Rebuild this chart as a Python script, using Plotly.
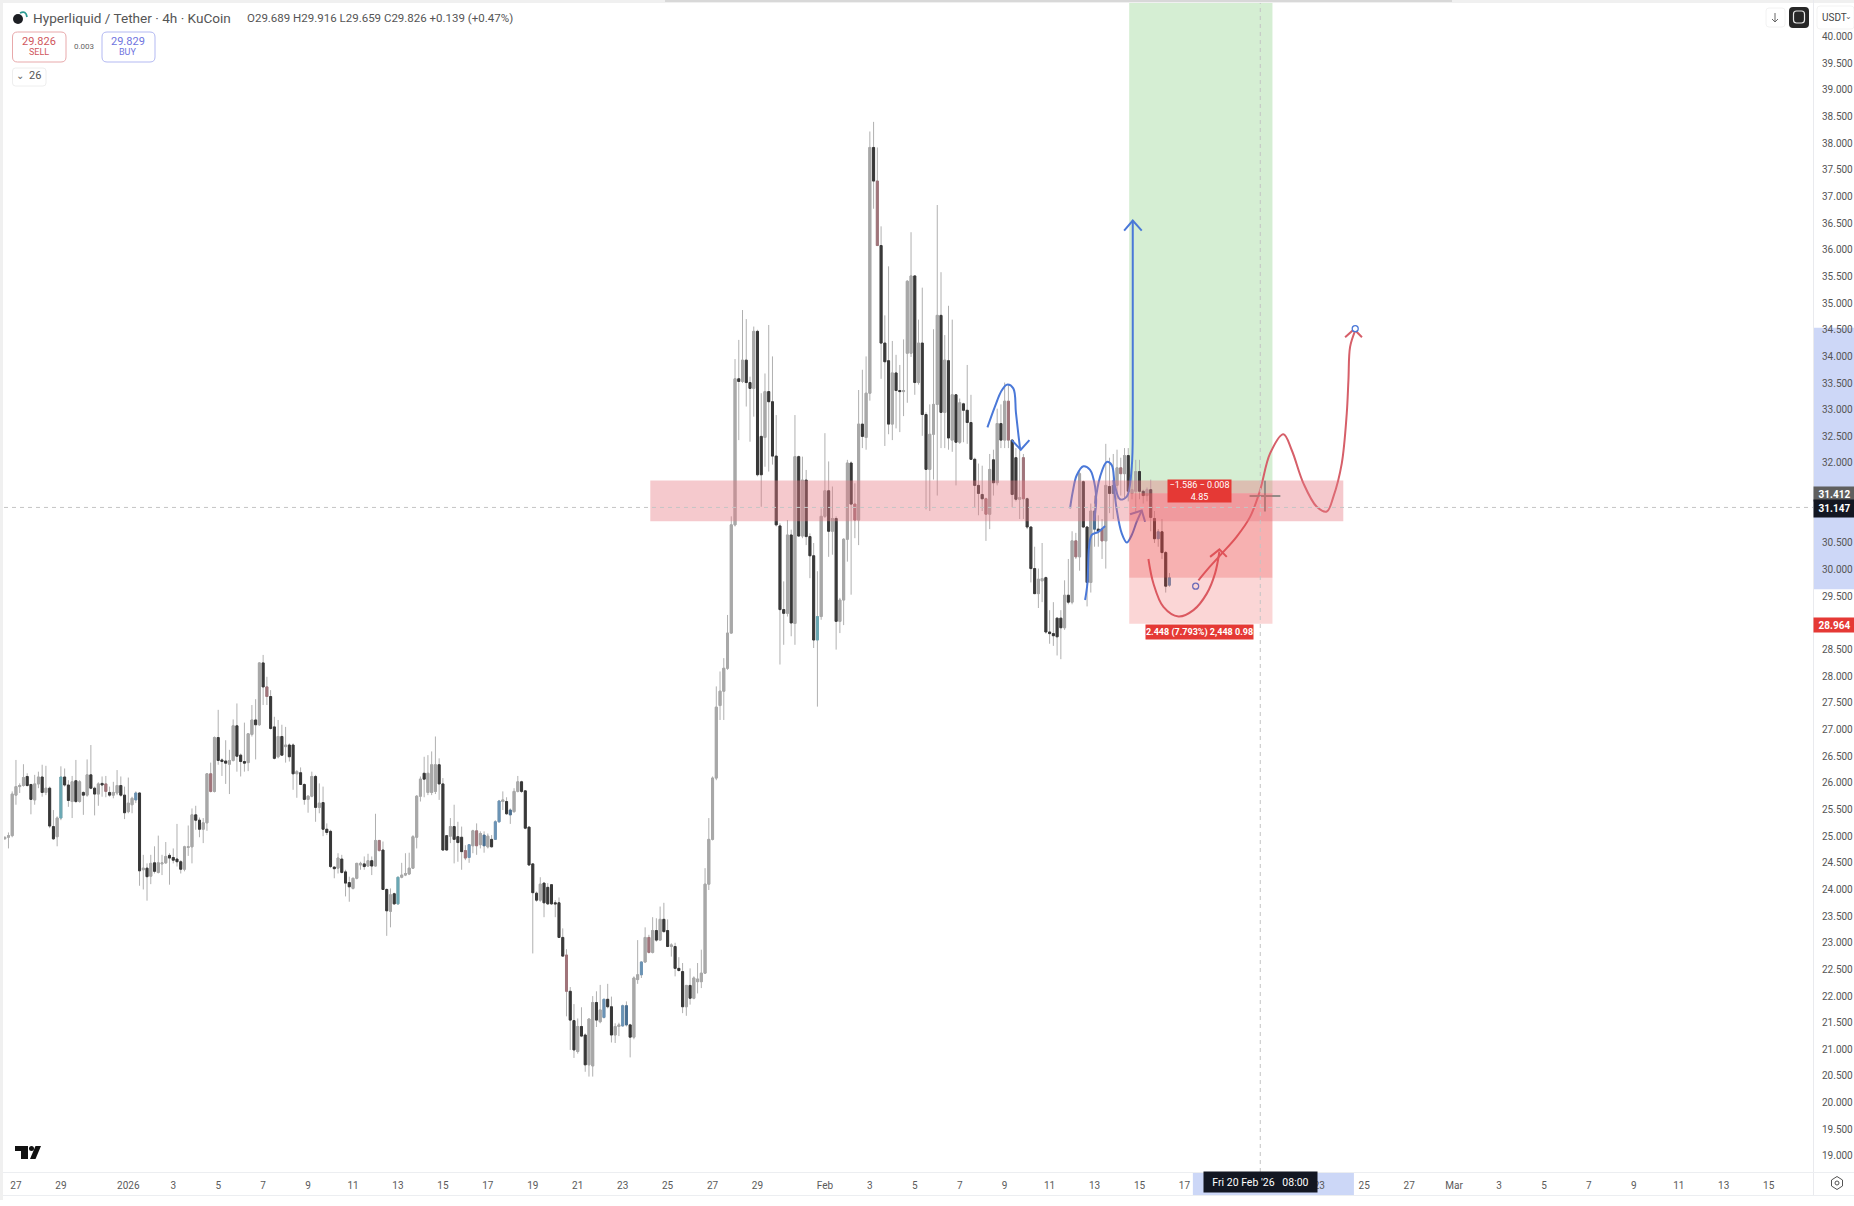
import pandas as pd
import plotly.graph_objects as go

# 4h candles, first bar is 26 Dec 12:00
opens = [
    24.93,24.96,24.99,25.75,25.91,25.93,26.10,25.95,25.66,25.96,
    26.09,25.80,25.88,25.16,24.97,25.32,26.09,25.94,25.63,26.02,
    25.63,25.80,25.75,26.13,25.88,25.77,25.97,25.96,25.80,25.75,
    25.79,25.93,25.75,25.44,25.57,25.66,25.79,24.35,24.38,24.23,
    24.48,24.30,24.46,24.48,24.62,24.58,24.55,24.50,24.36,24.77,
    24.78,25.38,25.28,25.11,25.23,26.15,25.82,26.83,26.41,26.39,
    26.33,26.40,27.05,26.50,26.38,26.36,26.89,27.16,27.07,28.23,
    27.78,27.60,27.03,26.47,26.85,26.66,26.69,26.69,26.15,26.17,
    25.95,25.67,25.73,26.10,25.52,25.61,25.11,25.07,24.40,24.38,
    24.55,24.31,24.11,24.00,24.19,24.44,24.46,24.42,24.52,24.42,
    24.90,24.72,23.98,23.57,23.90,23.71,24.21,24.25,24.27,24.38,
    24.96,25.73,26.16,25.80,25.80,25.82,26.32,25.96,24.99,24.98,
    25.16,24.97,24.96,24.71,24.58,24.80,25.08,24.82,25.00,24.78,
    24.92,24.92,25.25,25.63,25.63,25.47,25.44,25.82,26.00,25.83,
    25.15,24.46,23.91,23.78,24.10,24.02,24.07,23.73,23.73,23.08,
    22.75,22.07,21.52,20.94,21.41,21.25,20.69,20.67,21.86,21.50,
    21.58,21.92,21.78,21.25,21.41,21.42,21.80,21.44,21.21,22.29,
    22.38,22.62,23.08,22.80,23.21,23.03,23.42,23.21,22.91,22.91,
    22.50,22.44,21.78,22.18,21.94,22.25,22.25,22.41,24.08,24.92,
    26.07,27.43,27.70,28.13,28.79,30.82,33.56,33.51,33.91,33.49,
    33.38,34.45,32.48,32.46,33.32,33.13,32.11,30.80,29.23,29.16,
    30.63,28.97,32.10,30.61,31.66,30.60,30.24,28.66,29.10,30.98,
    31.46,30.70,30.94,29.01,29.41,30.55,31.98,31.21,30.91,32.71,
    32.46,33.29,37.90,37.27,36.06,34.23,33.90,32.71,33.67,33.34,
    33.32,34.04,34.04,35.49,33.49,34.23,32.89,31.86,32.52,33.08,
    34.75,32.93,33.90,32.41,33.26,32.37,33.09,32.97,32.74,32.05,
    31.56,31.39,31.31,31.02,32.04,31.61,32.72,32.41,33.14,32.41,
    32.08,31.30,32.08,31.31,30.78,30.00,29.53,29.77,29.83,28.81,
    28.78,29.07,29.07,28.89,29.50,29.37,30.52,30.22,31.63,30.78,
    29.74,31.08,30.74,30.74,30.52,31.54,31.56,31.56,31.89,31.78,
    32.12,31.41,31.45,31.82,31.45,31.37,31.48,30.94,30.56,30.69,
    30.30,29.689,
]
highs = [
    24.97,25.05,25.82,26.41,25.97,26.33,26.16,25.96,26.13,26.19,
    26.32,26.30,25.91,25.47,25.35,26.29,26.25,26.03,26.11,26.41,
    26.03,25.82,26.42,26.69,25.91,25.99,26.10,26.11,25.91,26.00,
    26.22,26.10,25.91,26.08,25.72,25.82,25.80,24.63,24.47,24.63,
    24.79,24.99,24.63,24.87,24.66,24.75,25.21,24.53,24.80,25.18,
    25.50,25.55,25.33,25.32,26.16,26.36,26.85,27.35,26.44,26.78,
    26.60,27.17,27.47,26.53,27.11,26.91,27.44,27.55,28.24,28.38,
    27.97,27.72,27.22,27.16,27.07,27.03,26.72,26.72,26.22,26.27,
    25.97,25.75,26.19,26.13,25.97,25.91,25.22,25.10,24.41,24.66,
    24.63,24.35,24.22,24.20,24.48,24.50,24.60,24.65,24.60,25.40,
    24.91,24.88,24.00,24.00,23.92,24.22,24.48,24.66,24.67,25.00,
    25.75,26.10,26.47,26.50,26.57,26.85,26.44,26.07,25.00,25.32,
    25.57,25.25,25.16,24.81,24.83,25.10,25.22,25.07,25.07,25.03,
    25.00,25.28,25.66,25.82,25.71,25.50,25.88,26.11,26.02,25.84,
    25.16,24.47,23.94,24.21,24.10,24.10,24.08,23.78,23.83,23.25,
    22.86,22.15,21.83,21.56,21.77,21.28,21.56,21.98,22.07,22.19,
    21.93,22.21,21.97,21.47,21.48,21.82,21.88,21.46,22.35,23.03,
    22.63,23.27,23.13,23.46,23.44,23.66,23.73,23.42,22.97,22.98,
    22.71,22.60,22.19,22.50,22.35,22.60,22.85,24.38,25.32,26.10,
    27.79,28.07,28.32,29.13,30.98,33.93,34.29,34.85,34.68,33.60,
    34.54,34.48,33.29,33.66,34.57,33.98,32.88,30.85,29.76,30.91,
    30.73,32.88,32.12,32.10,31.85,30.66,30.48,29.95,31.13,32.54,
    32.01,31.54,30.98,29.45,30.57,32.04,32.01,31.60,33.35,33.73,
    33.98,38.20,38.38,37.90,36.42,34.75,35.67,34.27,34.01,33.82,
    34.30,35.41,36.31,35.50,34.67,35.27,32.93,33.08,34.49,36.82,
    35.56,34.38,34.93,34.67,33.27,33.19,33.11,33.82,33.26,32.08,
    31.97,31.93,31.33,32.15,32.23,33.00,33.08,33.49,33.45,32.42,
    32.26,32.26,32.15,31.33,30.79,30.41,30.00,30.48,29.85,29.22,
    29.37,29.08,29.22,29.78,30.18,30.70,30.67,31.82,31.65,30.79,
    31.22,31.37,31.00,30.93,32.34,32.08,32.15,32.23,32.08,32.26,
    32.26,31.93,32.04,32.04,31.48,31.52,31.67,31.08,30.74,30.93,
    30.33,29.916,
]
lows = [
    24.92,24.75,24.96,25.57,25.79,25.91,25.91,25.39,25.57,25.88,
    25.72,25.75,25.13,24.91,24.79,25.28,25.91,25.53,25.32,25.60,
    25.61,25.38,25.72,25.86,25.37,25.55,25.72,25.71,25.72,25.69,
    25.75,25.72,25.30,25.41,25.41,25.60,24.05,23.98,23.77,24.08,
    24.28,24.28,24.25,24.46,24.07,24.47,24.41,24.28,24.32,24.61,
    24.47,25.10,24.96,24.85,25.08,25.80,25.80,26.32,26.11,25.96,
    25.77,26.38,26.19,26.10,26.19,26.20,26.85,26.42,27.05,27.44,
    27.44,26.98,26.42,26.44,26.50,26.36,26.38,25.85,25.70,25.94,
    25.57,25.42,25.71,25.25,25.41,24.98,25.00,24.38,24.19,24.28,
    24.28,23.85,23.75,23.98,24.17,24.35,24.35,24.41,24.25,24.41,
    24.69,23.97,23.11,23.27,23.69,23.69,24.19,24.23,24.25,24.37,
    24.75,25.63,25.71,25.75,25.75,25.77,25.66,24.71,24.71,24.85,
    24.47,24.50,24.35,24.53,24.48,24.66,24.63,24.75,24.67,24.75,
    24.77,24.91,25.23,25.47,25.38,25.21,25.42,25.80,25.79,25.11,
    24.42,22.78,23.75,23.75,23.46,23.69,23.69,23.46,23.07,22.72,
    21.60,20.97,20.82,20.90,21.21,20.56,20.47,20.47,21.40,21.47,
    21.56,21.75,21.11,21.10,21.23,21.41,21.41,20.83,21.17,22.21,
    22.32,22.60,22.78,22.78,23.00,23.03,23.17,22.90,22.72,22.35,
    22.44,21.66,21.61,21.82,21.92,22.03,22.13,22.40,23.97,24.90,
    26.03,27.16,27.16,28.10,28.78,30.79,32.41,33.48,33.04,32.38,
    32.85,31.73,31.16,31.91,31.82,31.95,30.79,28.20,28.57,29.10,
    28.73,28.57,30.60,30.57,30.44,29.82,28.51,27.41,29.04,30.95,
    30.22,30.26,28.48,28.79,28.94,30.13,29.51,30.57,30.44,32.26,
    32.23,33.15,36.75,36.05,33.56,32.30,32.52,32.41,32.63,32.56,
    32.86,33.11,33.97,33.26,33.45,32.49,31.11,31.08,31.67,31.37,
    32.26,32.26,32.23,32.19,31.56,32.34,32.37,32.34,32.04,31.15,
    31.00,31.08,30.52,30.74,31.37,31.56,32.26,32.26,32.26,31.15,
    31.26,30.93,30.93,30.74,29.74,29.52,29.26,29.37,28.78,28.59,
    28.55,28.37,28.30,28.85,29.33,29.33,30.18,29.96,30.76,29.29,
    29.55,30.41,30.41,30.18,30.00,31.04,30.93,31.30,31.37,31.30,
    31.26,31.30,31.04,31.30,31.22,31.26,30.70,30.48,30.41,30.18,
    29.55,29.659,
]
closes = [
    24.96,24.99,25.77,25.91,25.93,26.08,25.93,25.67,25.96,26.09,
    25.80,25.88,25.17,24.93,25.32,26.09,25.94,25.65,26.00,25.63,
    26.00,25.75,26.13,25.88,25.77,25.96,25.94,25.82,25.75,25.80,
    25.93,25.75,25.42,25.60,25.69,25.79,24.33,24.38,24.22,24.47,
    24.32,24.48,24.48,24.60,24.57,24.53,24.50,24.36,24.78,24.78,
    25.38,25.28,25.11,25.23,26.15,25.82,26.83,26.40,26.38,26.35,
    26.40,27.05,26.48,26.38,26.35,26.90,27.16,27.07,28.23,27.78,
    27.60,27.00,26.44,26.85,26.50,26.69,26.47,26.15,26.19,25.95,
    25.67,25.73,26.10,25.52,25.60,25.11,25.05,24.41,24.37,24.57,
    24.30,24.10,24.03,24.19,24.47,24.47,24.41,24.52,24.42,24.90,
    24.71,23.98,23.58,23.88,23.71,24.21,24.25,24.28,24.38,24.97,
    25.73,26.05,26.05,26.16,26.32,26.32,25.96,24.72,24.72,25.16,
    24.92,24.86,24.69,24.57,24.82,25.08,24.80,25.03,24.80,24.98,
    24.78,25.25,25.64,25.66,25.40,25.38,25.82,26.00,25.82,25.13,
    24.44,23.92,23.78,24.08,23.73,23.71,23.71,23.71,23.08,22.73,
    22.07,21.53,20.97,21.41,21.23,20.69,21.55,21.86,21.53,21.72,
    21.92,21.78,21.25,21.41,21.44,21.80,21.44,21.21,22.32,22.38,
    22.62,23.08,22.80,23.21,23.03,23.42,23.19,22.91,22.94,22.50,
    22.46,21.78,22.18,21.94,22.32,22.30,22.41,24.08,24.92,26.07,
    27.40,27.70,28.13,28.79,30.82,33.56,33.51,33.91,33.49,33.38,
    34.45,31.76,31.76,33.32,33.13,32.11,30.82,29.23,29.16,30.63,
    28.98,32.10,30.61,31.66,30.60,30.24,28.66,29.10,30.98,31.46,
    30.70,30.94,29.01,29.41,30.55,31.98,31.21,30.91,32.71,32.48,
    33.29,37.90,37.27,36.06,34.23,33.88,32.71,33.67,33.34,33.32,
    33.34,35.39,35.49,33.49,34.23,32.89,31.86,32.52,33.08,34.75,
    32.93,33.91,32.45,33.26,32.37,33.11,32.97,32.74,32.05,31.56,
    31.41,31.31,31.02,31.86,31.61,32.72,32.41,33.14,32.41,31.39,
    31.30,31.33,31.31,30.78,30.00,29.53,29.80,29.81,28.81,28.78,
    28.74,28.72,28.89,29.50,29.37,30.52,30.22,31.78,30.78,29.74,
    31.08,30.74,30.70,30.52,31.56,31.41,31.41,31.89,31.78,32.12,
    31.45,31.48,31.82,31.45,31.37,31.48,30.96,30.56,30.69,30.30,
    29.67,29.826,
]

# candles that came out tinted in the screen recording
red_bars = [27, 55, 70, 100, 123, 126, 150, 172, 227, 233, 262, 268, 272, 286, 293, 298]
teal_bars = [15, 105, 217]
blue_bars = [35, 124, 128, 131, 132, 135, 160, 165, 166, 170, 291, 296, 308, 311]

# time axis labels, 19 and 21 Feb sit under the crosshair tag
tick_dates = [
    "2025-12-27", "2025-12-29", "2026-01-01", "2026-01-03", "2026-01-05", "2026-01-07",
    "2026-01-09", "2026-01-11", "2026-01-13", "2026-01-15", "2026-01-17", "2026-01-19",
    "2026-01-21", "2026-01-23", "2026-01-25", "2026-01-27", "2026-01-29", "2026-02-01",
    "2026-02-03", "2026-02-05", "2026-02-07", "2026-02-09", "2026-02-11", "2026-02-13",
    "2026-02-15", "2026-02-17", "2026-02-23", "2026-02-25",
    "2026-02-27", "2026-03-01", "2026-03-03", "2026-03-05", "2026-03-07", "2026-03-09",
    "2026-03-11", "2026-03-13", "2026-03-15",
]
tick_labels = [
    "27", "29", "2026", "3", "5", "7", "9", "11", "13", "15", "17", "19", "21", "23",
    "25", "27", "29", "Feb", "3", "5", "7", "9", "11", "13", "15", "17",
    "23", "25", "27", "Mar", "3", "5", "7", "9", "11", "13", "15",
]

# price axis labels, 31.500, 31.000 and 29.000 sit under the price tags
price_ticks = [
    19.0, 19.5, 20.0, 20.5, 21.0, 21.5, 22.0, 22.5, 23.0, 23.5, 24.0, 24.5, 25.0, 25.5,
    26.0, 26.5, 27.0, 27.5, 28.0, 28.5, 29.5, 30.0, 30.5, 32.0, 32.5, 33.0, 33.5, 34.0,
    34.5, 35.0, 35.5, 36.0, 36.5, 37.0, 37.5, 38.0, 38.5, 39.0, 39.5, 40.0,
]

# position tool and zone levels
entry_price = 31.412
stop_price = 28.964
last_price = 29.826
cross_price = 31.147
target_price = 41.0
zone_top = 31.65
zone_bottom = 30.89
position_start = "2026-02-14 13:00"
position_end = "2026-02-20 22:00"
zone_start = "2026-01-24 05:30"
zone_end = "2026-02-24 01:40"
cross_time = "2026-02-20 09:00"

# hand drawn strokes, bar number (may run past the last candle) and price
blue_hump_bars = [262.4, 264.4, 266.2, 267.6, 269.3, 270.0, 270.7, 271.1]
blue_hump_prices = [32.65, 33.04, 33.34, 33.45, 33.38, 32.93, 32.49, 32.26]
blue_head_bars = [268.9, 271.3, 273.6]
blue_head_prices = [32.41, 32.23, 32.41]
blue_hook_bars = [288.47, 289.09, 289.54, 290.25, 292.03, 293.81]
blue_hook_prices = [29.41, 29.72, 30.41, 30.63, 30.69, 30.80]
blue_loop_bars = [284.46, 285.18, 286.24, 288.02, 289.8, 291.14, 291.41, 290.87]
blue_loop_prices = [31.13, 31.44, 31.75, 31.92, 31.85, 31.54, 31.22, 30.91]
blue_rise_bars = [291.14, 292.47, 294.25, 295.59, 296.48, 297.81, 299.6, 300.93, 301.2, 301.2]
blue_rise_prices = [31.22, 31.72, 32.0, 31.94, 31.54, 31.3, 31.35, 31.91, 32.91, 36.53]
blue_top_bars = [298.9, 301.2, 303.6]
blue_top_prices = [36.34, 36.53, 36.34]
blue_dip_bars = [296.03, 296.93, 298.26, 299.6, 300.93, 302.26, 303.6]
blue_dip_prices = [31.66, 31.1, 30.66, 30.49, 30.63, 30.88, 31.09]
blue_tip_bars = [300.48, 303.6, 304.49]
blue_tip_prices = [31.02, 31.09, 30.88]
red_bowl_bars = [305.38, 306.72, 309.39, 313.39, 317.4, 320.96, 323.18, 324.34]
red_bowl_prices = [30.18, 29.72, 29.28, 29.1, 29.22, 29.53, 29.91, 30.32]
red_head_bars = [321.85, 324.34, 326.3]
red_head_prices = [30.22, 30.36, 30.22]
red_path_bars = [318.73, 321.85, 324.96, 328.97, 332.53, 335.2, 337.87, 341.43, 343.66,
                 346.77, 350.33, 353.0, 354.78, 357.0, 358.34, 358.79, 359.23, 360.57]
red_path_prices = [29.78, 30.04, 30.28, 30.6, 30.97, 31.47, 32.16, 32.52, 32.22,
                   31.6, 31.16, 31.07, 31.35, 31.97, 32.91, 33.54, 34.16, 34.46]
red_top_bars = [357.9, 360.3, 362.4]
red_top_prices = [34.34, 34.49, 34.34]

FONT = "Roboto"
BLUE_INK = "#4a78d8"
RED_INK = "#d65f69"
WIDTH, HEIGHT = 1854, 1206
LEFT, RIGHT, TOP, BOTTOM = 4, 1813, 3, 1172

assert len(opens) == len(highs) == len(lows) == len(closes)
assert len(tick_dates) == len(tick_labels)

bar_times = pd.date_range("2025-12-26 12:00", periods=len(opens), freq="4h")
first_bar = bar_times[0]


def bar_time(bars):
    return [first_bar + pd.Timedelta(hours=4 * b) for b in bars]


def pick(values, wanted):
    return [values[i] for i in wanted]


def px(x):
    return (x - LEFT) / (RIGHT - LEFT)


def py(y):
    return (BOTTOM - y) / (BOTTOM - TOP)


def box(x0, y0, x1, y1, fill=None, line=None, width=1, layer="above"):
    return dict(type="rect", xref="paper", yref="paper", x0=px(x0), x1=px(x1), y0=py(y0), y1=py(y1),
                fillcolor=fill or "rgba(0,0,0,0)", line=dict(color=line or "rgba(0,0,0,0)", width=width if line else 0),
                layer=layer)


def round_box(x0, y0, x1, y1, r, fill=None, line=None, width=1):
    pts = (f"M {px(x0 + r)} {py(y0)} L {px(x1 - r)} {py(y0)} Q {px(x1)} {py(y0)} {px(x1)} {py(y0 + r)} "
           f"L {px(x1)} {py(y1 - r)} Q {px(x1)} {py(y1)} {px(x1 - r)} {py(y1)} "
           f"L {px(x0 + r)} {py(y1)} Q {px(x0)} {py(y1)} {px(x0)} {py(y1 - r)} "
           f"L {px(x0)} {py(y0 + r)} Q {px(x0)} {py(y0)} {px(x0 + r)} {py(y0)} Z")
    return dict(type="path", xref="paper", yref="paper", path=pts, fillcolor=fill or "rgba(0,0,0,0)",
                line=dict(color=line or "rgba(0,0,0,0)", width=width if line else 0), layer="above")


def label(x, y, text, size=11, color="#555", anchor="left", bold=False, **kw):
    return dict(xref="paper", yref="paper", x=px(x), y=py(y), text=f"<b>{text}</b>" if bold else text,
                showarrow=False, xanchor=anchor, yanchor="middle",
                font=dict(family=FONT, size=size, color=color), **kw)


def add_stroke(fig, bars, prices, color, smooth=True):
    fig.add_trace(go.Scatter(
        x=bar_time(bars), y=prices, mode="lines", hoverinfo="skip",
        line=dict(color=color, width=2, shape="spline" if smooth else "linear", smoothing=1.0),
    ))


fig = go.Figure()

# wicks for every candle in a light grey, bodies drawn over them
fig.add_trace(go.Candlestick(
    x=bar_times, open=opens, high=highs, low=lows, close=closes, whiskerwidth=0,
    increasing=dict(line=dict(color="#b0b0b0", width=1), fillcolor="#b0b0b0"),
    decreasing=dict(line=dict(color="#b0b0b0", width=1), fillcolor="#b0b0b0"),
))

tinted = set(red_bars + teal_bars + blue_bars)
plain_bars = [i for i in range(len(opens)) if i not in tinted]
body_groups = [
    (plain_bars, "#a8a8a8", "#383838"),
    (red_bars, "#c49a9e", "#a0747a"),
    (teal_bars, "#6aa8b4", "#6aa8b4"),
    (blue_bars, "#6a93b6", "#4a7093"),
]
for wanted, up_colour, down_colour in body_groups:
    body_open = pick(opens, wanted)
    body_close = pick(closes, wanted)
    fig.add_trace(go.Candlestick(
        x=pick(list(bar_times), wanted), open=body_open, close=body_close,
        high=[max(o, c) for o, c in zip(body_open, body_close)],
        low=[min(o, c) for o, c in zip(body_open, body_close)],
        whiskerwidth=0,
        increasing=dict(line=dict(color=up_colour, width=1), fillcolor=up_colour),
        decreasing=dict(line=dict(color=down_colour, width=1), fillcolor=down_colour),
    ))

add_stroke(fig, blue_hump_bars, blue_hump_prices, BLUE_INK)
add_stroke(fig, blue_head_bars, blue_head_prices, BLUE_INK, smooth=False)
add_stroke(fig, blue_hook_bars, blue_hook_prices, BLUE_INK)
add_stroke(fig, blue_loop_bars, blue_loop_prices, BLUE_INK)
add_stroke(fig, blue_rise_bars, blue_rise_prices, BLUE_INK)
add_stroke(fig, blue_top_bars, blue_top_prices, BLUE_INK, smooth=False)
add_stroke(fig, blue_dip_bars, blue_dip_prices, BLUE_INK)
add_stroke(fig, blue_tip_bars, blue_tip_prices, BLUE_INK, smooth=False)
add_stroke(fig, red_bowl_bars, red_bowl_prices, RED_INK)
add_stroke(fig, red_head_bars, red_head_prices, RED_INK, smooth=False)
add_stroke(fig, red_path_bars, red_path_prices, RED_INK)
add_stroke(fig, red_top_bars, red_top_prices, RED_INK, smooth=False)

# little white handles and the crosshair plus
fig.add_trace(go.Scatter(
    x=bar_time([318.0, 360.6]), y=[29.67, 34.5], mode="markers", hoverinfo="skip",
    marker=dict(symbol="circle", size=6, color="white", line=dict(color=BLUE_INK, width=1.3)),
))
fig.add_trace(go.Scatter(
    x=bar_time([336.5]), y=[31.36], mode="markers", hoverinfo="skip",
    marker=dict(symbol="cross-thin", size=22, line=dict(color="#5a9a8c", width=2)),
))

shapes = [
    # position tool
    dict(type="rect", x0=position_start, x1=position_end, y0=entry_price, y1=target_price, yref="y",
         fillcolor="#d5eed3", line_width=0, layer="below"),
    dict(type="rect", x0=position_start, x1=position_end, y0=last_price, y1=entry_price, yref="y",
         fillcolor="rgba(235,70,70,0.42)", line_width=0, layer="above"),
    dict(type="rect", x0=position_start, x1=position_end, y0=stop_price, y1=last_price, yref="y",
         fillcolor="rgba(235,70,70,0.22)", line_width=0, layer="above"),
    # the resistance zone
    dict(type="rect", x0=zone_start, x1=zone_end, y0=zone_bottom, y1=zone_top, yref="y",
         fillcolor="rgba(230,120,130,0.40)", line_width=0, layer="above"),
    # crosshair
    dict(type="line", xref="paper", x0=0, x1=1, yref="y", y0=cross_price, y1=cross_price,
         line=dict(color="#c4c4c4", width=1, dash="4px,4px"), layer="above"),
    dict(type="line", x0=cross_time, x1=cross_time, yref="paper", y0=0, y1=1,
         line=dict(color="#c4c4c4", width=1, dash="4px,4px"), layer="above"),
    # range highlighted on both axes
    dict(type="rect", xref="paper", x0=1, x1=px(WIDTH), yref="y", y0=29.61, y1=34.52,
         fillcolor="#cdd7f7", line_width=0, layer="below"),
    dict(type="rect", x0="2026-02-17 09:00", x1="2026-02-24 13:00", yref="paper", y0=py(1172), y1=py(1195),
         fillcolor="#ccd7f7", line_width=0, layer="below"),
    # frame of the chart
    box(0, 0, WIDTH, 3, fill="#f0f0f0"),
    box(665, 0, 1452, 2, fill="#d8d8d8"),
    box(0, 0, 3, 1200, fill="#f0f0f0"),
    box(RIGHT, 0, RIGHT + 1, 1195, fill="#e9eaee"),
    box(3, 1172, WIDTH, 1173, fill="#eceef1"),
    box(3, 1195, WIDTH, 1196, fill="#eceef1"),
    box(RIGHT + 1, 3, WIDTH, 32, fill="white"),
    # header widgets
    round_box(12.5, 32, 66, 62, 5, fill="white", line="#e8a9ab"),
    round_box(102, 32, 155, 62, 5, fill="white", line="#b3b9f2"),
    round_box(12.5, 68, 46, 86, 3, fill="white", line="#eeeeee"),
    round_box(1766, 8, 1785, 27, 3, fill="white", line="#f2f2f2"),
    round_box(1789, 7, 1809, 28, 4, fill="#272727"),
    round_box(1793.5, 11, 1804.5, 23, 3, line="#e8e8e8", width=1.2),
    round_box(1817, 6, 1854, 29, 3, fill="white", line="#f3f3f3"),
    # pair icon
    dict(type="circle", xref="paper", yref="paper", x0=px(13), x1=px(23), y0=py(14), y1=py(24),
         fillcolor="#1d1f24", line_width=0, layer="above"),
    dict(type="path", xref="paper", yref="paper", layer="above", line=dict(color="#2f9c94", width=1.8),
         path=f"M {px(20)} {py(13)} Q {px(26)} {py(10)} {px(27)} {py(17)}"),
    # tradingview mark
    box(15, 1146, 28, 1151, fill="#111"),
    box(21, 1146, 28, 1159, fill="#111"),
    dict(type="circle", xref="paper", yref="paper", x0=px(29), x1=px(34), y0=py(1146), y1=py(1151),
         fillcolor="#111", line_width=0, layer="above"),
    dict(type="path", xref="paper", yref="paper", layer="above", fillcolor="#111", line_width=0,
         path=f"M {px(35.5)} {py(1146)} L {px(41)} {py(1146)} L {px(35.5)} {py(1159)} L {px(30)} {py(1159)} Z"),
    # settings icon
    dict(type="path", xref="paper", yref="paper", layer="above", line=dict(color="#555", width=1),
         path=(f"M {px(1837)} {py(1176.5)} L {px(1842.5)} {py(1180)} L {px(1842.5)} {py(1186)} L {px(1837)} {py(1189.5)} "
               f"L {px(1831.5)} {py(1186)} L {px(1831.5)} {py(1180)} Z")),
    dict(type="circle", xref="paper", yref="paper", x0=px(1835), x1=px(1839), y0=py(1181), y1=py(1185),
         line=dict(color="#555", width=1), layer="above"),
    # little arrow button
    dict(type="path", xref="paper", yref="paper", layer="above", line=dict(color="#666", width=1),
         path=(f"M {px(1775)} {py(13)} L {px(1775)} {py(22)} M {px(1772)} {py(19)} L {px(1775)} {py(22)} "
               f"L {px(1778)} {py(19)}")),
]

tag_font = dict(family=FONT, size=10, color="white")
annotations = [
    label(31, 18, "Hyperliquid / Tether · 4h · KuCoin", size=13.6),
    label(245, 18, "O29.689 H29.916 L29.659 C29.826 +0.139 (+0.47%)", size=11.5),
    label(39, 41, "29.826", size=11, color="#d0565c", anchor="center"),
    label(39, 52, "SELL", size=9, color="#d0565c", anchor="center"),
    label(84, 46, "0.003", size=8, color="#666", anchor="center"),
    label(128, 41, "29.829", size=11, color="#6f74e0", anchor="center"),
    label(128, 52, "BUY", size=9, color="#6f74e0", anchor="center"),
    label(20, 76, "⌄", size=10, color="#666", anchor="center"),
    label(35, 76, "26", size=11, color="#555", anchor="center"),
    label(1820, 18, "USDT", size=10, color="#444"),
    label(1849, 17, "⌄", size=8, color="#666", anchor="center"),
    # position tool labels
    dict(x="2026-02-17 16:00", xanchor="center", y=31.45, yref="y", yanchor="middle",
         text="−1.586 − 0.008<br>4.85", showarrow=False,
         font=dict(family=FONT, size=9, color="white"), bgcolor="#e53935", width=63, height=22, borderpad=0),
    dict(x="2026-02-17 16:00", xanchor="center", y=28.81, yref="y", yanchor="middle",
         text="<b>2.448 (7.793%) 2,448 0.98</b>", showarrow=False,
         font=dict(family=FONT, size=9, color="white"), bgcolor="#e53935", width=107, height=14, borderpad=0),
    # price tags on the axis
    dict(xref="paper", x=1, xanchor="left", y=entry_price, yref="y", text="<b>31.412</b>", showarrow=False,
         font=tag_font, bgcolor="#5f5f5f", width=41, height=14, borderpad=0, yanchor="middle", yshift=-1),
    dict(xref="paper", x=1, xanchor="left", y=cross_price, yref="y", text="<b>31.147</b>", showarrow=False,
         font=tag_font, bgcolor="#131722", width=41, height=17, borderpad=0, yanchor="middle", yshift=-1),
    dict(xref="paper", x=1, xanchor="left", y=stop_price, yref="y", text="<b>28.964</b>", showarrow=False,
         font=tag_font, bgcolor="#e53935", width=41, height=14, borderpad=0, yanchor="middle", yshift=-1),
    # crosshair time tag
    dict(x=cross_time, xanchor="center", yref="paper", y=py(1182), yanchor="middle",
         text="Fri 20 Feb '26   08:00", showarrow=False,
         font=dict(family=FONT, size=10.5, color="white"), bgcolor="#131722", width=113, height=20, borderpad=0),
]

fig.update_layout(
    width=WIDTH,
    height=HEIGHT,
    showlegend=False,
    paper_bgcolor="white",
    plot_bgcolor="white",
    margin=dict(l=LEFT, r=WIDTH - RIGHT, t=TOP, b=HEIGHT - BOTTOM, pad=0),
    boxgap=0.27,
    boxgroupgap=0.27,
    shapes=shapes,
    annotations=annotations,
    xaxis=dict(
        automargin=False,
        range=["2025-12-26 11:14", "2026-03-16 23:20"],
        rangeslider=dict(visible=False),
        showgrid=False, zeroline=False, showline=False,
        tickmode="array", tickvals=tick_dates, ticktext=tick_labels,
        ticks="outside", ticklen=4, tickcolor="rgba(0,0,0,0)",
        tickfont=dict(family=FONT, size=10, color="#5a5a5a"),
    ),
    yaxis=dict(
        automargin=False,
        range=[18.68, 40.61],
        side="right", showgrid=False, zeroline=False, showline=False,
        tickmode="array", tickvals=price_ticks, tickformat=".3f",
        ticks="outside", ticklen=6, tickcolor="rgba(0,0,0,0)",
        ticklabelshift=1,
        tickfont=dict(family=FONT, size=10, color="#555"),
    ),
)

fig.write_html("out.html", config={"displayModeBar": False}, post_script="document.body.style.margin='0';")
